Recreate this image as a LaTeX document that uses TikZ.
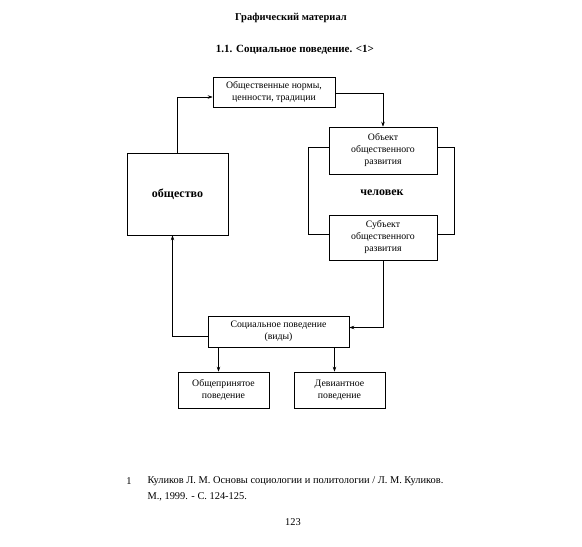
\documentclass[tikz,border=0pt]{standalone}
\usepackage{fontspec}
\setmainfont{Liberation Serif}
\usetikzlibrary{arrows.meta}
\begin{document}
\begin{tikzpicture}[x=1pt, y=-1pt, box/.style={draw, line width=0.6pt, align=center, inner sep=1pt, font=\fontsize{9.8}{12}\selectfont}, arr/.style={-{Stealth[length=5pt,width=3.5pt]}, line width=0.6pt}, ln/.style={line width=0.6pt}]
       \useasboundingbox (0,0) rectangle (582,547);
       \node[font=\fontsize{10.5}{12}\selectfont\bfseries] (title) at (291,18) {Графический материал};
       \node[font=\fontsize{11}{13}\selectfont\bfseries] (sub) at (295,50) {1.1. Социальное поведение. <1>};

       \node[box, minimum width=122pt, minimum height=30pt] (norms) at (274,92) {Общественные нормы,\\ценности, традиции};
       \node[box, minimum width=108pt, minimum height=47pt] (object) at (383,150.5) {Объект\\общественного\\развития};
       \node[box, minimum width=108pt, minimum height=45pt] (subject) at (383,237.5) {Субъект\\общественного\\развития};
       \node[font=\fontsize{12}{14}\selectfont\bfseries] (person) at (382,193) {человек};
       \node[box, minimum width=101pt, minimum height=82pt, font=\fontsize{12}{14}\selectfont\bfseries] (society) at (177.5,194) {общество};
       \node[box, minimum width=141pt, minimum height=31pt] (social) at (278.5,331.5) {Социальное поведение\\(виды)};
       \node[box, minimum width=91pt, minimum height=36pt] (common) at (223.5,390) {Общепринятое\\поведение};
       \node[box, minimum width=91pt, minimum height=36pt] (deviant) at (339.5,390) {Девиантное\\поведение};

       \draw[arr] (society.north) |- ([yshift=-5pt]norms.west);
       \draw[arr] ([yshift=-1pt]norms.east) -| (object.north);
       \draw[ln] ([yshift=-21pt]object.north west) -- ++(-20,0) |- ([yshift=-20pt]subject.north west);
       \draw[ln] ([yshift=-21pt]object.north east) -- ++(17,0) |- ([yshift=-20pt]subject.north east);
       \draw[arr] (subject.south) |- ([yshift=4pt]social.east);
       \draw[arr] ([yshift=-5pt]social.west) -| ([xshift=-5pt]society.south);
       \draw[arr] ([xshift=-5pt]common.north |- social.south) -- ([xshift=-5pt]common.north);
       \draw[arr] ([xshift=-5pt]deviant.north |- social.south) -- ([xshift=-5pt]deviant.north);

       \node[font=\fontsize{10.4}{12}\selectfont] (fnmark) at (129,481) {1};
       \node[font=\fontsize{10.4}{15.5}\selectfont, align=left, anchor=west] (fntext) at (144,489) {Куликов Л. М. Основы социологии и политологии / Л. М. Куликов.\\М., 1999. - С. 124-125.};
       \node[font=\fontsize{10.4}{12}\selectfont] (page) at (293,522) {123};
     \end{tikzpicture}
\end{document}
